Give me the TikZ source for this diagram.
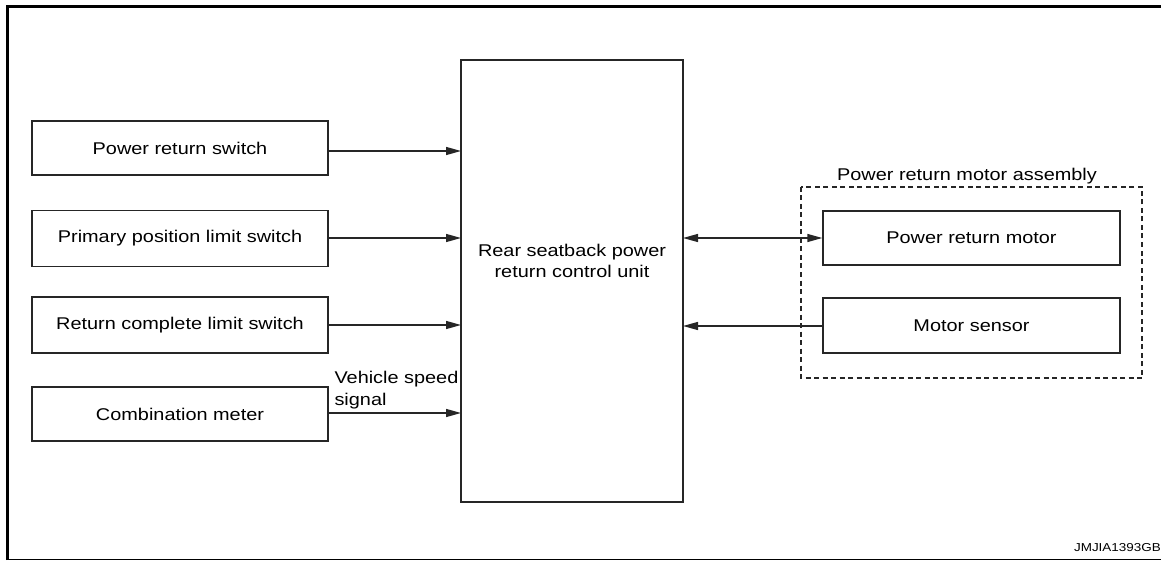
\documentclass[tikz,border=0pt]{standalone}
\usepackage{fontspec}
\setmainfont{Liberation Sans}[FakeStretch=1.17]
\usetikzlibrary{arrows.meta}
\begin{document}
\begin{tikzpicture}[x=1pt,y=-1pt,
  box/.style={draw=black!85,line width=1.4pt,inner sep=0pt},
  lbl/.style={font=\fontsize{17}{21.5}\selectfont,align=center},
  conn/.style={draw=black!85,line width=1.4pt,-{Triangle[length=15pt,width=8pt]}},
  dconn/.style={draw=black!85,line width=1.4pt,{Triangle[length=15pt,width=8pt]}-{Triangle[length=15pt,width=8pt]}}]
\useasboundingbox (0,0) rectangle (1161,561);
% frame
\draw[line width=3pt] (7,560) -- (7,6.5) -- (1161,6.5);
\draw[line width=1.5pt] (6,559.5) -- (1161,559.5);
% left boxes
\node[box,minimum width=296pt,minimum height=54pt] (b1) at (180,148) {};
\node[box,minimum width=296pt,minimum height=56pt] (b2) at (180,238.5) {};
\node[box,minimum width=296pt,minimum height=56pt] (b3) at (180,325) {};
\node[box,minimum width=296pt,minimum height=54pt] (b4) at (180,414) {};
\node[lbl] at (b1) {Power return switch};
\node[lbl] at (b2) {Primary position limit switch};
\node[lbl] at (b3) {Return complete limit switch};
\node[lbl] at (b4) {Combination meter};
% center box
\node[box,minimum width=222pt,minimum height=442pt] (cu) at (572,281) {};
\node[lbl] at (572,261) {Rear seatback power\\return control unit};
% assembly
\draw[draw=black!85,line width=1.3pt,dash pattern=on 5pt off 3.5pt] (801,187) rectangle (1142,378);
\node[lbl,anchor=base] at (967,181) {Power return motor assembly};
\node[box,minimum width=297pt,minimum height=54pt] (m1) at (971.5,238) {};
\node[box,minimum width=297pt,minimum height=55pt] (m2) at (971.5,325.5) {};
\node[lbl] at (m1) {Power return motor};
\node[lbl] at (m2) {Motor sensor};
% connectors
\coordinate (e1) at (461,151);
\coordinate (e2) at (461,238);
\coordinate (e3) at (461,325);
\coordinate (e4) at (461,413);
\draw[conn] (b1.east |- e1) -- (e1);
\draw[conn] (b2.east |- e2) -- (e2);
\draw[conn] (b3.east |- e3) -- (e3);
\draw[conn] (b4.east |- e4) -- (e4);
\coordinate (r1) at (683,238);
\coordinate (r2) at (683,326);
\draw[dconn] (r1) -- (m1.west |- r1);
\draw[conn] (m2.west |- r2) -- (r2);
\node[lbl,align=left,anchor=base west] at (331,405) {Vehicle speed\\signal};
\node[font=\fontsize{11.5}{13}\selectfont,anchor=base east,inner sep=0pt] at (1161,551) {JMJIA1393GB};
\end{tikzpicture}
\end{document}
